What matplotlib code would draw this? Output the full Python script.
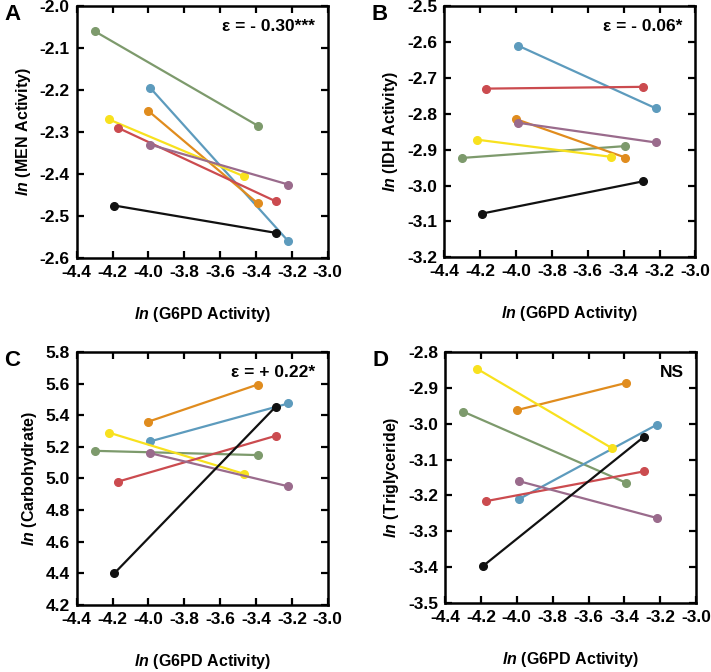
import matplotlib.pyplot as plt

plt.rcParams['font.family'] = ['Liberation Sans', 'DejaVu Sans']
plt.rcParams['font.weight'] = 'bold'
plt.rcParams['mathtext.fontset'] = 'custom'
plt.rcParams['mathtext.it'] = 'Liberation Sans:italic:bold'
plt.rcParams['mathtext.bf'] = 'Liberation Sans:bold'
plt.rcParams['mathtext.rm'] = 'Liberation Sans:bold'

# population order: green, blue, orange, yellow, red, purple, black
colors = ["#7d9a6c", "#5d9bbd", "#e08c1e", "#f8e11e", "#cb4b4f", "#9a6b8c", "#111111"]

x_start = [-4.30, -3.99, -4.00, -4.22, -4.17, -3.99, -4.19]
x_end = [-3.39, -3.22, -3.39, -3.47, -3.29, -3.22, -3.29]

men_start = [-2.060, -2.195, -2.250, -2.270, -2.290, -2.330, -2.475]
men_end = [-2.285, -2.560, -2.470, -2.405, -2.465, -2.425, -2.540]

idh_start = [-2.923, -2.610, -2.815, -2.872, -2.730, -2.825, -3.078]
idh_end = [-2.890, -2.785, -2.922, -2.920, -2.725, -2.880, -2.988]

carb_start = [5.175, 5.235, 5.360, 5.290, 4.980, 5.160, 4.400]
carb_end = [5.148, 5.475, 5.595, 5.030, 5.270, 4.950, 5.455]

trig_start = [-2.966, -3.211, -2.962, -2.847, -3.216, -3.160, -3.398]
trig_end = [-3.165, -3.003, -2.886, -3.068, -3.133, -3.263, -3.036]

panels = [
    ("A", r"MEN\ Activity", men_start, men_end, (-2.6, -2.0), [-2.6, -2.5, -2.4, -2.3, -2.2, -2.1, -2.0], "\u03b5 = - 0.30***"),
    ("B", r"IDH\ Activity", idh_start, idh_end, (-3.2, -2.5), [-3.2, -3.1, -3.0, -2.9, -2.8, -2.7, -2.6, -2.5], "\u03b5 = - 0.06*"),
    ("C", r"Carbohydrate", carb_start, carb_end, (4.2, 5.8), [4.2, 4.4, 4.6, 4.8, 5.0, 5.2, 5.4, 5.6, 5.8], "\u03b5 = + 0.22*"),
    ("D", r"Triglyceride", trig_start, trig_end, (-3.5, -2.8), [-3.5, -3.4, -3.3, -3.2, -3.1, -3.0, -2.9, -2.8], "NS"),
]

positions = [
    [0.108, 0.616, 0.353, 0.375],
    [0.625, 0.617, 0.353, 0.374],
    [0.108, 0.100, 0.353, 0.376],
    [0.626, 0.103, 0.353, 0.373],
]

xticks = [-4.4, -4.2, -4.0, -3.8, -3.6, -3.4, -3.2, -3.0]

fig = plt.figure(figsize=(7.11, 6.72), dpi=100)

for (letter, ylab, ys, ye, ylim, yticks, note), pos in zip(panels, positions):
    ax = fig.add_axes(pos)
    for i in range(len(colors)):
        ax.plot([x_start[i], x_end[i]], [ys[i], ye[i]], color=colors[i], lw=1.6,
                marker="o", markersize=5.5, solid_capstyle="butt")
    ax.set_xlim(-4.4, -3.0)
    ax.set_ylim(*ylim)
    ax.set_xticks(xticks)
    ax.set_xticklabels(["%.1f" % v for v in xticks], fontweight="bold")
    ax.set_yticks(yticks)
    ax.set_yticklabels(["%.1f" % v for v in yticks], fontweight="bold")
    ax.tick_params(direction="in", top=True, right=True, length=5, width=1.6,
                   pad=5, labelsize=12.5)
    for sp in ax.spines.values():
        sp.set_linewidth(1.8)
    ax.set_xlabel(r"$\mathit{ln}\ \mathbf{(G6PD\ Activity)}$", fontsize=11.5, labelpad=18)
    ax.set_ylabel(r"$\mathit{ln}\ \mathbf{(" + ylab + ")}$", fontsize=11.5, labelpad=5)
    ax.text(0.95, 0.92, note, transform=ax.transAxes, ha="right", va="center",
            fontsize=12.5, fontweight="bold")
    fig.text(pos[0] - 0.102, pos[1] + pos[3] - 0.012, letter, fontsize=16,
             fontweight="bold", va="center", ha="left")

fig.savefig("out.png", dpi=100)
